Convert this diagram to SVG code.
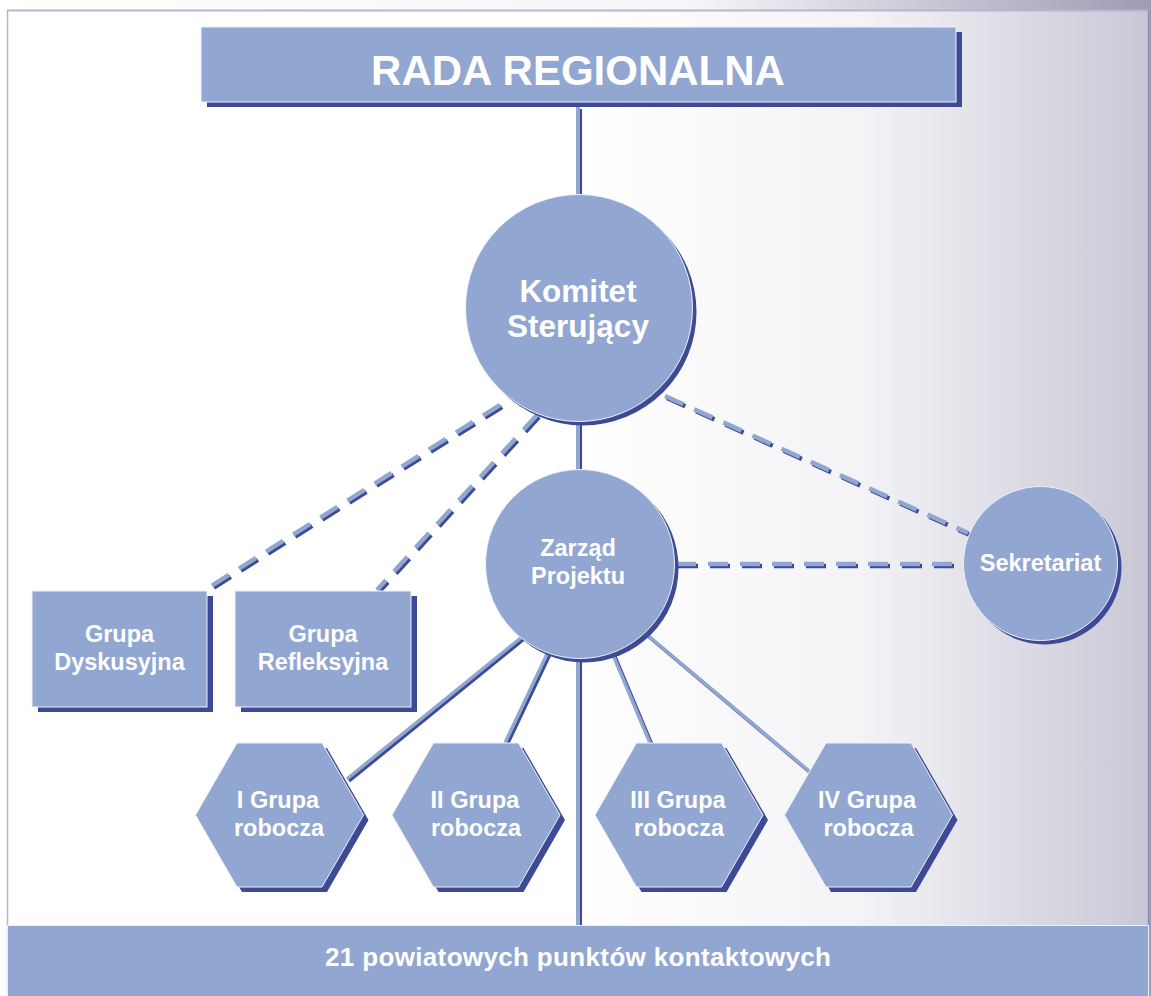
<svg xmlns="http://www.w3.org/2000/svg" xmlns:xlink="http://www.w3.org/1999/xlink" width="1151" height="996" viewBox="0 0 1151 996">
<defs>
<linearGradient id="bg" x1="0" y1="0" x2="1151" y2="0" gradientUnits="userSpaceOnUse">
<stop offset="0" stop-color="#ffffff"/>
<stop offset="0.5" stop-color="#ffffff"/>
<stop offset="0.75" stop-color="#f3f3f6"/>
<stop offset="1" stop-color="#c9c7d5"/>
</linearGradient>
<linearGradient id="topbg" x1="0" y1="0" x2="1151" y2="0" gradientUnits="userSpaceOnUse">
<stop offset="0" stop-color="#ffffff"/>
<stop offset="0.6" stop-color="#f6f6f8"/>
<stop offset="1" stop-color="#9e9cb4"/>
</linearGradient>
<polygon id="hex" points="-84,0 -42.5,-72 42.5,-72 84,0 42.5,72 -42.5,72"/>
<style>
.fill{fill:#91a6d0;stroke:#eef1f8;stroke-width:1}
.shadow{fill:#3e4a96}
.t{font-family:"Liberation Sans",Arial,Helvetica,sans-serif;font-weight:bold;fill:#ffffff;text-anchor:middle}
.dk{fill:none;stroke:#3e4a96}
.lt{fill:none;stroke:#91a6d0}
</style>
</defs>
<rect width="1151" height="996" fill="url(#bg)"/>
<rect x="7" y="0" width="1144" height="10" fill="url(#topbg)"/>
<rect x="1149" y="0" width="2" height="996" fill="#9e9cb4"/>
<line x1="7" y1="10.5" x2="1149" y2="10.5" stroke="#b3b6d6" stroke-width="2"/>
<line x1="7.5" y1="10" x2="7.5" y2="996" stroke="#b3b6d6" stroke-width="1.5"/>
<line x1="1148.5" y1="10" x2="1148.5" y2="926" stroke="#8f91b5" stroke-width="1.5"/>

<g id="connectors">
<g transform="translate(2,2)" class="dk">
<line x1="578" y1="107" x2="578" y2="923" stroke-width="4"/>
<line x1="522" y1="637" x2="347" y2="779" stroke-width="3.5"/>
<line x1="549" y1="650" x2="505" y2="743" stroke-width="3.5"/>
<line x1="611" y1="650" x2="650" y2="743" stroke-width="3.5"/>
<line x1="646" y1="634" x2="810" y2="772" stroke-width="3.5"/>
<g stroke-width="4.5" stroke-dasharray="20 12">
<line x1="500" y1="405" x2="208" y2="588"/>
<line x1="537" y1="415" x2="377" y2="590"/>
<line x1="665" y1="396" x2="968" y2="533"/>
<line x1="676" y1="564" x2="963" y2="564"/>
</g>
</g>
<g class="lt">
<line x1="578" y1="107" x2="578" y2="925" stroke-width="4"/>
<line x1="522" y1="637" x2="347" y2="779" stroke-width="3.5"/>
<line x1="549" y1="650" x2="505" y2="743" stroke-width="3.5"/>
<line x1="611" y1="650" x2="650" y2="743" stroke-width="3.5"/>
<line x1="646" y1="634" x2="810" y2="772" stroke-width="3.5"/>
<g stroke-width="4.5" stroke-dasharray="20 12">
<line x1="500" y1="405" x2="208" y2="588"/>
<line x1="537" y1="415" x2="377" y2="590"/>
<line x1="665" y1="396" x2="968" y2="533"/>
<line x1="676" y1="564" x2="963" y2="564"/>
</g>
</g>
</g>

<g id="rada">
<rect x="207" y="32" width="755" height="75" class="shadow"/>
<rect x="201" y="27" width="755" height="75" class="fill"/>
<text x="578" y="85" class="t" font-size="42">RADA REGIONALNA</text>
</g>

<g id="komitet">
<circle cx="583" cy="312" r="113.5" class="shadow"/>
<circle cx="579" cy="308" r="113.5" class="fill"/>
<text x="578" y="302" class="t" font-size="31.5">Komitet</text>
<text x="578" y="337" class="t" font-size="31.5">Sterujący</text>
</g>

<g id="zarzad">
<circle cx="584" cy="568" r="94.5" class="shadow"/>
<circle cx="580" cy="564" r="94.5" class="fill"/>
<text x="578" y="556" class="t" font-size="23.5">Zarząd</text>
<text x="578" y="584" class="t" font-size="23.5">Projektu</text>
</g>

<g id="sekretariat">
<circle cx="1044.5" cy="567.5" r="77" class="shadow"/>
<circle cx="1040.5" cy="563.5" r="77" class="fill"/>
<text x="1040.5" y="571" class="t" font-size="23.5">Sekretariat</text>
</g>

<g id="grupa-dyskusyjna">
<rect x="38" y="596" width="175" height="116" class="shadow"/>
<rect x="32" y="591" width="175" height="116" class="fill"/>
<text x="119.5" y="642" class="t" font-size="23.5">Grupa</text>
<text x="119.5" y="670" class="t" font-size="23.5">Dyskusyjna</text>
</g>

<g id="grupa-refleksyjna">
<rect x="241" y="596" width="176" height="116" class="shadow"/>
<rect x="235" y="591" width="176" height="116" class="fill"/>
<text x="323" y="642" class="t" font-size="23.5">Grupa</text>
<text x="323" y="670" class="t" font-size="23.5">Refleksyjna</text>
</g>

<g id="grupa-robocza-1">
<use xlink:href="#hex" href="#hex" transform="translate(284.5,820)" class="shadow"/>
<use xlink:href="#hex" href="#hex" transform="translate(279.5,815)" class="fill"/>
<text x="278" y="808" class="t" font-size="23.5">I Grupa</text>
<text x="279" y="836" class="t" font-size="23.5">robocza</text>
</g>

<g id="grupa-robocza-2">
<use xlink:href="#hex" href="#hex" transform="translate(481,820)" class="shadow"/>
<use xlink:href="#hex" href="#hex" transform="translate(476,815)" class="fill"/>
<text x="475" y="808" class="t" font-size="23.5">II Grupa</text>
<text x="476" y="836" class="t" font-size="23.5">robocza</text>
</g>

<g id="grupa-robocza-3">
<use xlink:href="#hex" href="#hex" transform="translate(684,820)" class="shadow"/>
<use xlink:href="#hex" href="#hex" transform="translate(679,815)" class="fill"/>
<text x="678" y="808" class="t" font-size="23.5">III Grupa</text>
<text x="679" y="836" class="t" font-size="23.5">robocza</text>
</g>

<g id="grupa-robocza-4">
<use xlink:href="#hex" href="#hex" transform="translate(873.5,820)" class="shadow"/>
<use xlink:href="#hex" href="#hex" transform="translate(868.5,815)" class="fill"/>
<text x="867" y="808" class="t" font-size="23.5">IV Grupa</text>
<text x="868.5" y="836" class="t" font-size="23.5">robocza</text>
</g>

<g id="punkty-kontaktowe">
<rect x="7.5" y="925.5" width="1141" height="72" class="fill"/>
<text x="578" y="966" class="t" font-size="26" textLength="506" lengthAdjust="spacing">21 powiatowych punktów kontaktowych</text>
</g>
</svg>
